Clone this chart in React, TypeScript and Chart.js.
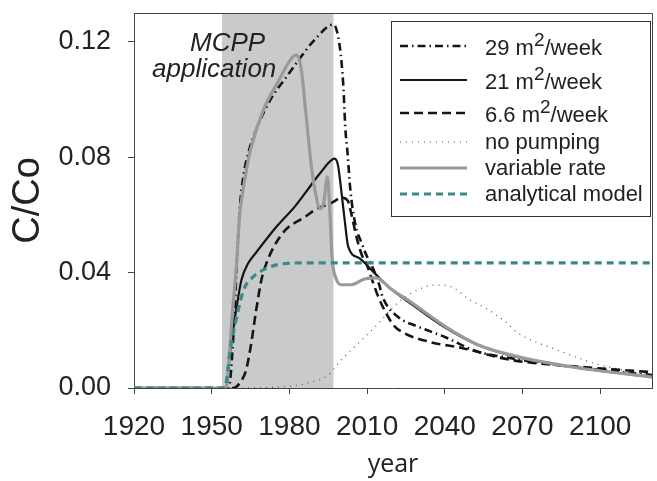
import React, { useEffect, useRef } from "react";
import { Chart, registerables } from "chart.js";

Chart.register(...registerables);

// ---- axes ----
const xTickValues = [1920, 1950, 1980, 2010, 2040, 2070, 2100];
const yTickValues = [0, 0.04, 0.08, 0.12];
const xMin = 1920;
const xMax = 2120;
const yMin = 0;
const yMax = 0.13;

// MCPP application period (shaded)
const mcppStart = 1954;
const mcppEnd = 1997;

// ---- series: 29 m2/week ----
const years29 = [1920, 1956.5, 1958.5, 1960, 1961, 1962, 1963.7, 1967.7, 1972.7, 1979, 1983, 1990, 1997, 1999.5, 2000.8, 2001.6, 2002.5, 2003.5, 2005.4, 2008, 2010, 2012, 2014.6, 2016, 2022, 2029, 2040, 2052, 2065, 2090, 2120];
const conc29 = [0, 0, 0.02, 0.049, 0.064, 0.072, 0.08, 0.0906, 0.1, 0.108, 0.113, 0.121, 0.126, 0.118, 0.105, 0.09, 0.081, 0.069, 0.057, 0.05, 0.0455, 0.042, 0.036, 0.0315, 0.0246, 0.0215, 0.0177, 0.0128, 0.0104, 0.0072, 0.0045];

// ---- series: 21 m2/week ----
const years21 = [1920, 1955.5, 1957.3, 1959.6, 1961.5, 1964.2, 1967, 1975, 1982, 1987, 1992, 1997.5, 1998.8, 2000, 2001.5, 2002.7, 2007, 2012.7, 2019, 2027.3, 2040, 2053, 2068, 2090, 2120];
const conc21 = [0, 0, 0.014, 0.028, 0.0375, 0.0434, 0.0468, 0.0559, 0.0628, 0.0687, 0.0746, 0.0795, 0.077, 0.0687, 0.057, 0.049, 0.045, 0.04, 0.0345, 0.029, 0.021, 0.0148, 0.0107, 0.0072, 0.0038];

// ---- series: 6.6 m2/week ----
const years66 = [1920, 1958.5, 1960.8, 1963.2, 1965, 1967, 1969.2, 1971.2, 1974, 1978.5, 1986, 1990, 1997, 2000, 2002.5, 2004, 2006, 2008, 2009.6, 2012.5, 2014.6, 2017.3, 2020, 2023.5, 2034, 2046.5, 2065.8, 2090, 2120];
const conc66 = [0, 0, 0.0017, 0.006, 0.014, 0.026, 0.0375, 0.0434, 0.049, 0.0548, 0.0593, 0.0618, 0.0645, 0.066, 0.065, 0.06, 0.052, 0.046, 0.0434, 0.036, 0.031, 0.026, 0.022, 0.0194, 0.016, 0.0139, 0.0097, 0.0075, 0.0055];

// ---- series: no pumping ----
const yearsNoPump = [1920, 1960, 1975, 1982, 1987, 1995, 2000, 2008, 2014.6, 2020, 2027.3, 2036.5, 2042.7, 2049, 2057, 2063.5, 2067.7, 2084, 2100, 2120];
const concNoPump = [0, 0, 0.0003, 0.0008, 0.0017, 0.0045, 0.0097, 0.0167, 0.0226, 0.028, 0.033, 0.0357, 0.035, 0.031, 0.027, 0.0229, 0.0194, 0.013, 0.008, 0.0045];

// ---- series: variable rate ----
const yearsVar = [1920, 1955.5, 1956.5, 1958, 1959.6, 1960.8, 1962, 1963.5, 1965, 1970, 1975.5, 1981, 1982.7, 1984.5, 1986.5, 1988.5, 1990, 1991.8, 1993.2, 1994.7, 1995.7, 1996.5, 1998, 2000, 2004, 2009, 2013.5, 2019, 2027.3, 2040.4, 2053, 2068.5, 2090, 2120];
const concVar = [0, 0, 0.008, 0.026, 0.043, 0.06, 0.068, 0.076, 0.0826, 0.0965, 0.106, 0.1145, 0.1155, 0.111, 0.094, 0.0767, 0.068, 0.0622, 0.064, 0.0732, 0.06, 0.045, 0.038, 0.0358, 0.0358, 0.0378, 0.0382, 0.0345, 0.0295, 0.0212, 0.0149, 0.0108, 0.0072, 0.0038];

// ---- series: analytical model ----
const yearsModel = [1920, 1955, 1957.3, 1960, 1962.3, 1966, 1971.5, 1979, 1990, 2120];
const concModel = [0, 0, 0.014, 0.026, 0.034, 0.0385, 0.0416, 0.0432, 0.0434, 0.0434];

// ---- legend text ----
const legendNames = ["29", "21", "6.6", "no pumping", "variable rate", "analytical model"];
const legendHasUnit = [true, true, true, false, false, false];

const FONT = "'Liberation Sans', Arial, Helvetica, sans-serif";

function pts(xs: number[], ys: number[]) {
  return xs.map((x, i) => ({ x, y: ys[i] }));
}

const styles = [
  { color: "#151515", width: 2.6, dash: [8, 4, 1.5, 4] },
  { color: "#151515", width: 2.2, dash: [] as number[] },
  { color: "#151515", width: 2.6, dash: [9, 5] },
  { color: "#555555", width: 1.2, dash: [1, 5] },
  { color: "#9a9a9a", width: 3.2, dash: [] as number[] },
  { color: "#3b8a85", width: 3.2, dash: [7, 5] },
];

const shadePlugin = {
  id: "shade",
  beforeDatasetsDraw(chart: any) {
    const { ctx, chartArea, scales } = chart;
    const x0 = scales.x.getPixelForValue(mcppStart);
    const x1 = scales.x.getPixelForValue(mcppEnd);
    ctx.save();
    ctx.fillStyle = "#c9cacc";
    ctx.fillRect(x0, chartArea.top, x1 - x0, chartArea.bottom - chartArea.top);
    ctx.restore();
  },
};

const overlayPlugin = {
  id: "overlay",
  afterDraw(chart: any) {
    const { ctx, chartArea } = chart;
    ctx.save();
    // frame top and right
    ctx.strokeStyle = "#444";
    ctx.lineWidth = 1;
    ctx.beginPath();
    ctx.moveTo(chartArea.left, chartArea.top + 0.5);
    ctx.lineTo(chartArea.right + 0.5, chartArea.top + 0.5);
    ctx.lineTo(chartArea.right + 0.5, chartArea.bottom);
    ctx.stroke();

    // MCPP application label
    ctx.fillStyle = "#222";
    ctx.font = `italic 26px ${FONT}`;
    ctx.textBaseline = "alphabetic";
    ctx.textAlign = "left";
    ctx.fillText("MCPP", 190, 51);
    ctx.fillText("application", 152, 77);

    // legend box
    const bx = 391.5, by = 21.5, bw = 259, bh = 195;
    ctx.fillStyle = "#fff";
    ctx.fillRect(bx, by, bw, bh);
    ctx.strokeStyle = "#333";
    ctx.lineWidth = 1;
    ctx.strokeRect(bx, by, bw, bh);

    const rowsY = [46, 80, 113, 142, 168, 194];
    const sx0 = 400, sx1 = 467, tx = 485;
    rowsY.forEach((ry, i) => {
      const st = styles[i];
      ctx.strokeStyle = st.color;
      ctx.lineWidth = st.width;
      ctx.setLineDash(st.dash);
      ctx.beginPath();
      ctx.moveTo(sx0, ry);
      ctx.lineTo(sx1, ry);
      ctx.stroke();
      ctx.setLineDash([]);
      ctx.fillStyle = "#222";
      ctx.textBaseline = "alphabetic";
      const base = ry + 9;
      if (legendHasUnit[i]) {
        ctx.font = `22px ${FONT}`;
        const a = legendNames[i] + " m";
        ctx.fillText(a, tx, base);
        let x = tx + ctx.measureText(a).width;
        ctx.font = `19px ${FONT}`;
        ctx.fillText("2", x, base - 9);
        x += ctx.measureText("2").width;
        ctx.font = `22px ${FONT}`;
        ctx.fillText("/week", x, base);
      } else {
        ctx.font = `22px ${FONT}`;
        ctx.fillText(legendNames[i], tx, base - 2);
      }
    });
    ctx.restore();
  },
};

export default function App() {
  const canvasRef = useRef<HTMLCanvasElement | null>(null);

  useEffect(() => {
    const canvas = canvasRef.current;
    if (!canvas) return;
    const series = [
      { label: "29 m2/week", d: pts(years29, conc29), order: 5 },
      { label: "21 m2/week", d: pts(years21, conc21), order: 4 },
      { label: "6.6 m2/week", d: pts(years66, conc66), order: 3 },
      { label: "no pumping", d: pts(yearsNoPump, concNoPump), order: 6 },
      { label: "variable rate", d: pts(yearsVar, concVar), order: 2 },
      { label: "analytical model", d: pts(yearsModel, concModel), order: 1 },
    ];
    const chart = new Chart(canvas, {
      type: "line",
      data: {
        datasets: series.map((s, i) => ({
          label: s.label,
          data: s.d,
          borderColor: styles[i].color,
          borderWidth: styles[i].width,
          borderDash: styles[i].dash,
          pointRadius: 0,
          fill: false,
          cubicInterpolationMode: "monotone" as const,
          order: s.order,
        })),
      },
      options: {
        animation: false,
        responsive: false,
        devicePixelRatio: 1,
        layout: { padding: { top: 13, right: 5, left: 0, bottom: 0 } },
        plugins: { legend: { display: false }, tooltip: { enabled: false } },
        scales: {
          x: {
            type: "linear",
            min: xMin,
            max: xMax,
            afterBuildTicks: (s: any) => {
              s.ticks = xTickValues.map((v) => ({ value: v }));
            },
            afterFit: (s: any) => {
              s.height = 93;
              s.paddingLeft = 0;
              s.paddingRight = 0;
            },
            grid: { display: true, drawOnChartArea: false, drawTicks: true, tickLength: 6, color: "#444" },
            border: { display: true, color: "#444", width: 1 },
            ticks: {
              font: { family: FONT, size: 28 },
              color: "#222",
              padding: 16,
              maxRotation: 0,
              autoSkip: false,
              callback: (v: any) => String(v),
            },
            title: {
              display: true,
              text: "year",
              font: { family: "'Open Sans', sans-serif", size: 25, lineHeight: 1 },
              color: "#222",
              padding: { top: 0, bottom: 4 },
            },
          },
          y: {
            type: "linear",
            min: yMin,
            max: yMax,
            afterBuildTicks: (s: any) => {
              s.ticks = yTickValues.map((v) => ({ value: v }));
            },
            afterFit: (s: any) => {
              s.width = 134;
              s.paddingTop = 0;
              s.paddingBottom = 0;
            },
            grid: { display: true, drawOnChartArea: false, drawTicks: true, tickLength: 6, color: "#444" },
            border: { display: true, color: "#444", width: 1 },
            ticks: {
              font: { family: FONT, size: 27 },
              color: "#222",
              padding: 17,
              autoSkip: false,
              callback: (v: any) => Number(v).toFixed(2),
            },
            title: {
              display: true,
              text: "C/Co",
              font: { family: FONT, size: 38, lineHeight: 1 },
              color: "#222",
              padding: { top: 10, bottom: 0 },
            },
          },
        },
      },
      plugins: [shadePlugin, overlayPlugin],
    });
    return () => chart.destroy();
  }, []);

  return (
    <div style={{ position: "fixed", left: 0, top: 0, width: 657, height: 481, background: "#fff" }}>
      <canvas ref={canvasRef} width={657} height={481} style={{ display: "block", width: 657, height: 481 }} />
    </div>
  );
}
